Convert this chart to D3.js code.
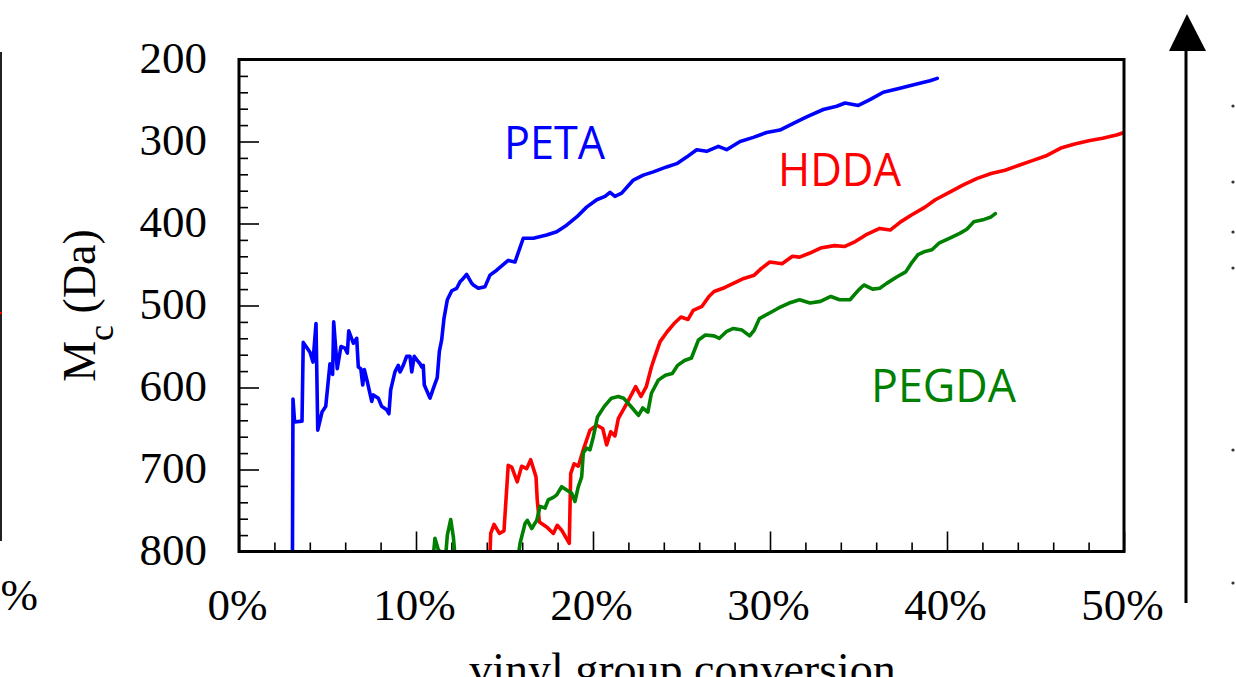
<!DOCTYPE html>
<html>
<head>
<meta charset="utf-8">
<script src="https://cdn.jsdelivr.net/npm/d3@7/dist/d3.min.js"></script>
<style>
  html, body { margin: 0; padding: 0; background: #fff; }
  svg { display: block; }
</style>
</head>
<body>
<div id="chart"></div>
<script>
// vinyl group conversion (%) vs Mc (Da)
var petaData = [[3.02,805],[3.05,614],[3.14,642],[3.56,641],[3.63,545],[4.01,557],[4.18,569],[4.35,522],[4.45,652],[4.69,630],[4.90,623],[5.14,571],[5.29,584],[5.35,520],[5.55,577],[5.76,550],[5.99,552],[6.12,558],[6.20,531],[6.46,546],[6.65,540],[6.74,575],[6.88,577],[6.99,597],[7.08,578],[7.25,593],[7.50,617],[7.59,609],[7.87,613],[8.06,623],[8.34,627],[8.47,632],[8.57,603],[8.81,581],[9.00,573],[9.10,581],[9.28,573],[9.47,562],[9.66,562],[9.76,581],[9.90,562],[10.07,567],[10.23,571],[10.32,575],[10.41,573],[10.47,597],[10.79,613],[10.98,601],[11.20,588],[11.32,556],[11.45,542],[11.58,516],[11.77,493],[12.02,482],[12.30,479],[12.49,471],[12.67,467],[12.86,462],[13.15,473],[13.24,475],[13.52,479],[13.90,477],[14.18,463],[14.56,457],[15.21,445],[15.59,447],[16.06,418],[16.63,418],[17.38,414],[17.95,410],[18.51,402],[19.08,392],[19.64,380],[20.21,371],[20.68,367],[20.96,362],[21.24,367],[21.62,363],[22.28,347],[22.84,341],[23.41,337],[24.16,331],[24.73,327],[25.29,319],[25.86,310],[26.42,312],[27.08,306],[27.55,310],[28.31,300],[29.06,295],[29.81,289],[30.56,286],[31.32,278],[32.07,270],[33.01,261],[33.77,257],[34.24,253],[34.99,256],[35.65,249],[36.40,240],[37.34,235],[38.29,230],[39.04,226],[39.45,223]];

var hddaData = [[14.18,805],[14.22,778],[14.41,767],[14.71,778],[14.97,775],[15.21,695],[15.41,697],[15.72,715],[15.97,696],[16.25,699],[16.48,688],[16.78,709],[16.85,737],[16.97,764],[17.38,770],[17.76,778],[17.98,768],[18.23,774],[18.66,790],[18.74,705],[18.93,693],[19.17,696],[19.45,676],[19.83,652],[20.21,646],[20.55,650],[20.77,670],[21.00,654],[21.24,659],[21.43,638],[21.92,619],[22.41,599],[22.71,611],[23.01,599],[23.30,575],[23.50,562],[23.79,544],[24.19,532],[24.58,522],[24.97,514],[25.37,517],[25.66,506],[26.16,501],[26.55,489],[26.84,483],[27.34,479],[27.93,473],[28.52,467],[29.11,463],[29.50,455],[29.99,447],[30.68,449],[31.27,440],[31.67,441],[32.26,436],[32.85,430],[33.64,427],[34.23,428],[34.82,422],[35.41,414],[36.20,406],[36.79,408],[37.38,398],[37.97,390],[38.76,380],[39.34,371],[40.13,362],[40.92,353],[41.71,345],[42.49,339],[43.28,335],[44.07,329],[44.86,323],[45.65,317],[46.43,308],[47.22,303],[48.01,299],[48.79,296],[49.58,292],[50.0,289]];

// null = the trace runs below 800 Da (off the chart)
var pegdaData = [[10.98,805],[11.07,784],[11.26,798],[11.45,802],[11.69,802],[11.77,780],[11.96,761],[12.11,782],[12.20,805],null,[15.78,805],[15.88,790],[16.16,766],[16.29,762],[16.54,772],[16.82,762],[17.01,745],[17.29,747],[17.47,737],[17.76,734],[17.95,731],[18.23,721],[18.51,725],[18.80,729],[18.98,739],[19.17,721],[19.36,709],[19.45,680],[19.64,674],[19.83,676],[20.02,660],[20.25,636],[20.64,623],[21.04,613],[21.43,611],[21.73,613],[22.22,625],[22.57,634],[22.81,625],[23.10,630],[23.30,607],[23.69,591],[24.09,585],[24.48,583],[24.78,573],[25.17,567],[25.56,564],[25.96,542],[26.35,536],[26.84,537],[27.14,540],[27.53,532],[27.93,528],[28.42,530],[28.85,537],[29.11,530],[29.40,516],[29.90,510],[30.49,503],[31.08,497],[31.67,493],[32.26,497],[32.85,495],[33.44,489],[33.93,493],[34.52,493],[35.01,481],[35.31,475],[35.80,480],[36.20,479],[36.59,473],[37.18,465],[37.67,459],[37.97,449],[38.36,438],[38.76,434],[39.15,432],[39.54,424],[40.13,418],[40.72,412],[41.12,407],[41.51,398],[42.10,395],[42.49,392],[42.73,388]];

var seriesNames = ["PETA", "HDDA", "PEGDA"];
var seriesColors = ["#0000ff", "#ff0000", "#008000"];

var xTicks = [0, 10, 20, 30, 40, 50];
var xMinorTicks = [2, 4, 6, 8, 12, 14, 16, 18, 22, 24, 26, 28, 32, 34, 36, 38, 42, 44, 46, 48];
var yTicks = [200, 300, 400, 500, 600, 700, 800];
var yMinorTicks = [220, 240, 260, 280, 320, 340, 360, 380, 420, 440, 460, 480, 520, 540, 560, 580, 620, 640, 660, 680, 720, 740, 760, 780];

var width = 1236, height = 677;
var plot = {left: 239, right: 1124, top: 59.5, bottom: 551.5};
var serif = "'Liberation Serif', 'Times New Roman', serif";
var sans = "'Open Sans', 'Noto Sans', sans-serif";

var x = d3.scaleLinear().domain([0, 50]).range([plot.left, plot.right]);
var y = d3.scaleLinear().domain([200, 800]).range([plot.top, plot.bottom]);

var svg = d3.select("#chart").append("svg")
    .attr("width", width)
    .attr("height", height)
    .attr("viewBox", "0 0 " + width + " " + height);

svg.append("rect").attr("width", width).attr("height", height).attr("fill", "#fff");

svg.append("clipPath").attr("id", "plotClip")
  .append("rect")
    .attr("x", plot.left).attr("y", plot.top)
    .attr("width", plot.right - plot.left).attr("height", plot.bottom - plot.top);

// ticks (inward)
function styleAxis(g) {
  g.select(".domain").remove();
  g.selectAll(".tick line").attr("stroke", "#000").attr("stroke-width", 1.6);
  g.selectAll(".tick text")
    .attr("fill", "#000")
    .style("font-family", serif)
    .style("font-size", "45px");
}

svg.append("g")
    .attr("transform", "translate(0," + plot.bottom + ")")
    .call(d3.axisBottom(x).tickValues(xMinorTicks).tickSizeInner(-9).tickSizeOuter(0).tickFormat(""))
    .call(styleAxis);

svg.append("g")
    .attr("transform", "translate(0," + plot.bottom + ")")
    .call(d3.axisBottom(x).tickValues(xTicks).tickSizeInner(-20).tickSizeOuter(0)
      .tickPadding(37).tickFormat(function (d) { return d + "%"; }))
    .call(styleAxis)
    .call(function (g) { g.selectAll(".tick text").attr("x", -2); });

svg.append("g")
    .attr("transform", "translate(" + plot.left + ",0)")
    .call(d3.axisLeft(y).tickValues(yMinorTicks).tickSizeInner(-9).tickSizeOuter(0).tickFormat(""))
    .call(styleAxis);

svg.append("g")
    .attr("transform", "translate(" + plot.left + ",0)")
    .call(d3.axisLeft(y).tickValues(yTicks).tickSizeInner(-20).tickSizeOuter(0).tickPadding(32))
    .call(styleAxis)
    .call(function (g) { g.selectAll(".tick text").attr("dy", "0.28em"); });

// curves
var line = d3.line()
    .defined(function (d) { return d != null; })
    .x(function (d) { return x(d[0]); })
    .y(function (d) { return y(d[1]); });

var curves = svg.append("g").attr("clip-path", "url(#plotClip)");
[petaData, hddaData, pegdaData].forEach(function (data, i) {
  curves.append("path")
      .datum(data)
      .attr("fill", "none")
      .attr("stroke", seriesColors[i])
      .attr("stroke-width", 3.6)
      .attr("stroke-linejoin", "round")
      .attr("stroke-linecap", "round")
      .attr("d", line);
});

// frame
svg.append("rect")
    .attr("x", plot.left).attr("y", plot.top)
    .attr("width", plot.right - plot.left).attr("height", plot.bottom - plot.top)
    .attr("fill", "none").attr("stroke", "#000").attr("stroke-width", 3);

// series labels
var labelPos = [[504, 159, 101], [778, 186, 123], [871, 402, 145]];
seriesNames.forEach(function (name, i) {
  svg.append("text")
      .attr("x", labelPos[i][0]).attr("y", labelPos[i][1])
      .attr("textLength", labelPos[i][2])
      .attr("lengthAdjust", "spacingAndGlyphs")
      .attr("fill", seriesColors[i])
      .style("font-family", sans)
      .style("font-size", "46px")
      .text(name);
});

// axis titles
svg.append("text")
    .attr("x", (plot.left + plot.right) / 2 + 1)
    .attr("y", 685)
    .attr("text-anchor", "middle")
    .style("font-family", serif)
    .style("font-size", "46px")
    .text("vinyl group conversion");

var yTitle = svg.append("text")
    .attr("transform", "translate(95," + ((plot.top + plot.bottom) / 2) + ") rotate(-90)")
    .attr("text-anchor", "middle")
    .style("font-family", serif)
    .style("font-size", "46px");
yTitle.append("tspan").text("M");
yTitle.append("tspan").attr("dy", 18).style("font-size", "36px").text("c");
yTitle.append("tspan").attr("dy", -18).text(" (Da)");

// cropped neighbouring panels
svg.append("line")
    .attr("x1", 1).attr("x2", 1).attr("y1", 52).attr("y2", 541)
    .attr("stroke", "#222").attr("stroke-width", 2);
svg.append("rect").attr("x", 0).attr("y", 312).attr("width", 2).attr("height", 2).attr("fill", "#f00");
svg.append("text")
    .attr("x", 38).attr("y", 610)
    .attr("text-anchor", "end")
    .style("font-family", serif)
    .style("font-size", "45px")
    .text("50%");

svg.append("line")
    .attr("x1", 1186).attr("x2", 1186).attr("y1", 603).attr("y2", 45)
    .attr("stroke", "#000").attr("stroke-width", 3);
svg.append("path")
    .attr("d", "M1169,51 L1206,51 L1187,14 Z")
    .attr("fill", "#000");
[106, 182, 232, 268, 450, 583].forEach(function (py) {
  svg.append("circle").attr("cx", 1233).attr("cy", py).attr("r", 1.6).attr("fill", "#333");
});
</script>
</body>
</html>
